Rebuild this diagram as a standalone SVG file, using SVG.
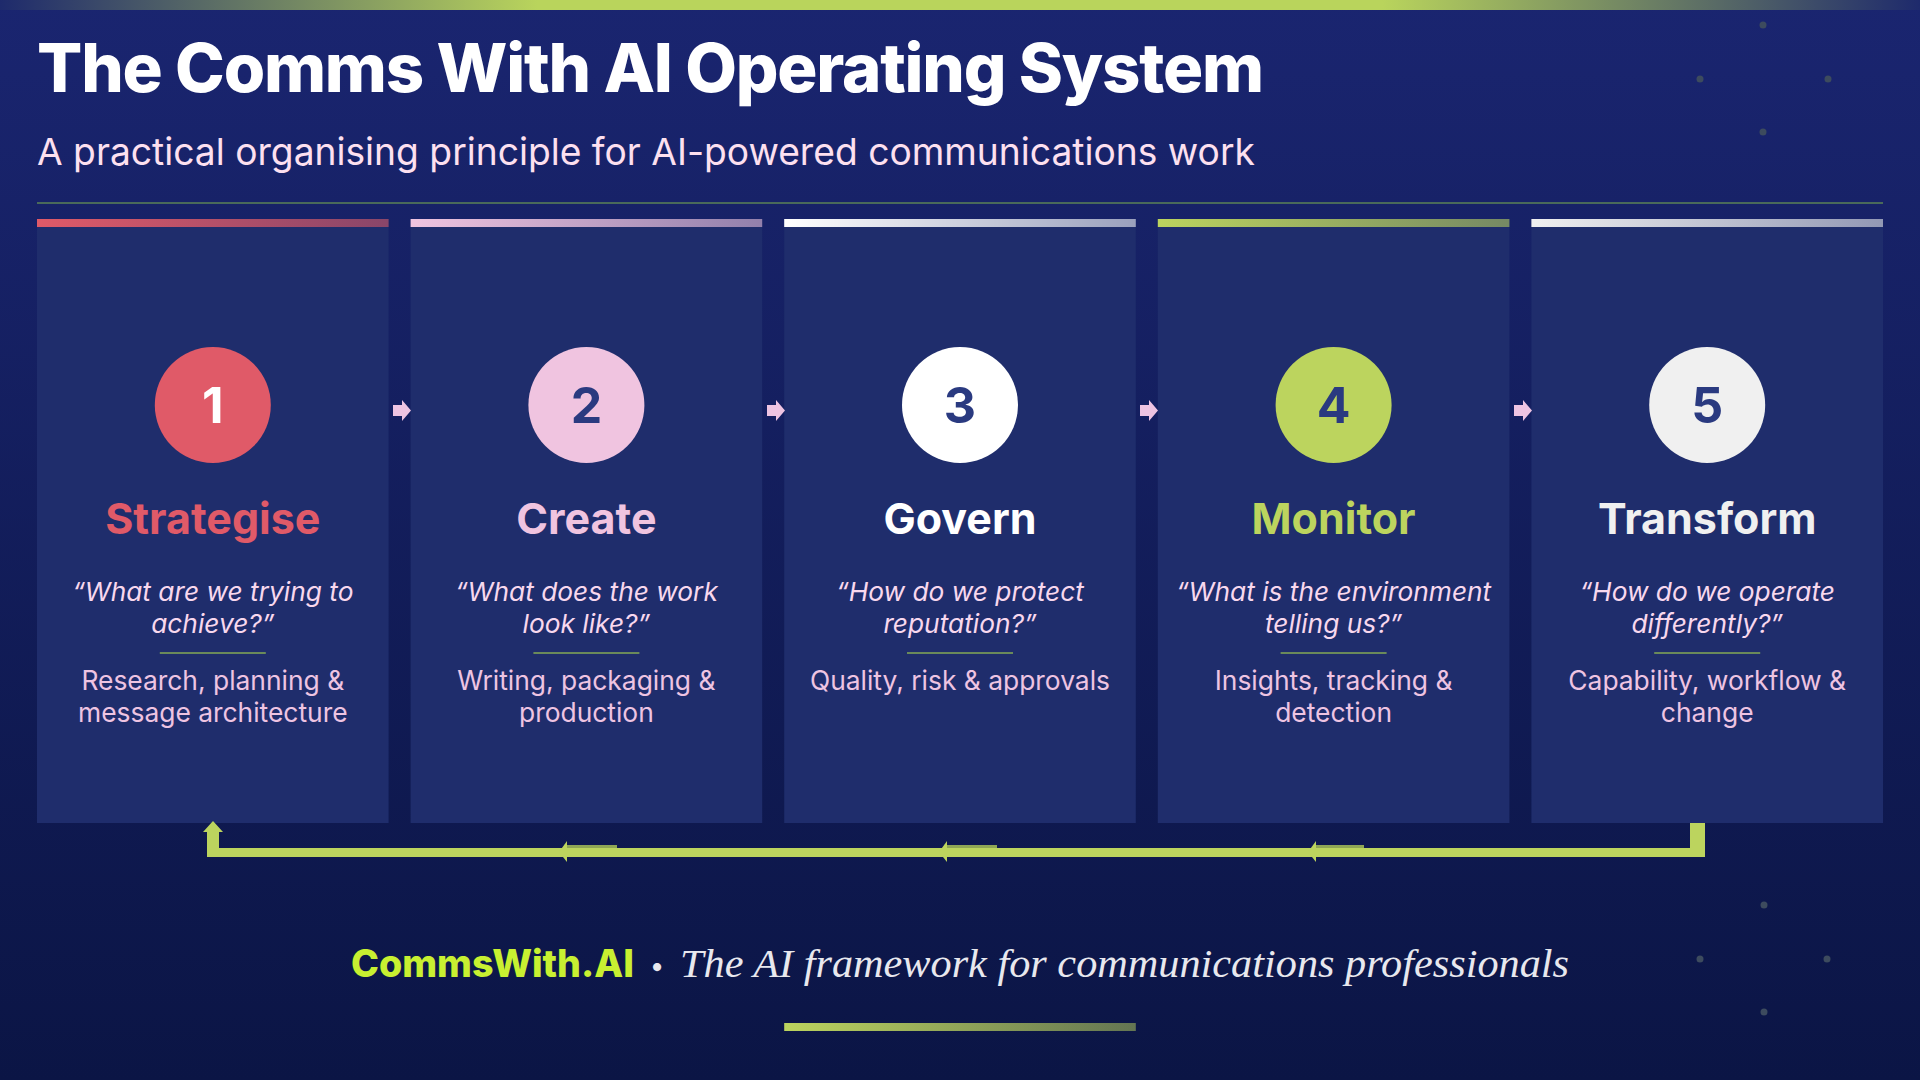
<svg xmlns="http://www.w3.org/2000/svg" width="1920" height="1080" viewBox="0 0 1920 1080">
  <defs>
    <linearGradient id="bg" x1="0" y1="0" x2="0" y2="1">
      <stop offset="0" stop-color="#1a2570"/>
      <stop offset="1" stop-color="#0b1545"/>
    </linearGradient>
    <linearGradient id="topbar" x1="0" y1="0" x2="1" y2="0">
      <stop offset="0" stop-color="#1e2a6c"/>
      <stop offset="0.28" stop-color="#b9d45c"/>
      <stop offset="0.72" stop-color="#b9d45c"/>
      <stop offset="1" stop-color="#1e2a6c"/>
    </linearGradient>
    <linearGradient id="g1" x1="0" y1="0" x2="1" y2="0"><stop offset="0" stop-color="#e05a68"/><stop offset="1" stop-color="#e05a68" stop-opacity="0.55"/></linearGradient>
    <linearGradient id="g2" x1="0" y1="0" x2="1" y2="0"><stop offset="0" stop-color="#f0c4e0"/><stop offset="1" stop-color="#f0c4e0" stop-opacity="0.55"/></linearGradient>
    <linearGradient id="g3" x1="0" y1="0" x2="1" y2="0"><stop offset="0" stop-color="#ffffff"/><stop offset="1" stop-color="#ffffff" stop-opacity="0.55"/></linearGradient>
    <linearGradient id="g4" x1="0" y1="0" x2="1" y2="0"><stop offset="0" stop-color="#bcd45e"/><stop offset="1" stop-color="#bcd45e" stop-opacity="0.55"/></linearGradient>
    <linearGradient id="g5" x1="0" y1="0" x2="1" y2="0"><stop offset="0" stop-color="#f0f0f0"/><stop offset="1" stop-color="#f0f0f0" stop-opacity="0.55"/></linearGradient>
    <linearGradient id="gfoot" x1="0" y1="0" x2="1" y2="0"><stop offset="0" stop-color="#bcd45e"/><stop offset="1" stop-color="#bcd45e" stop-opacity="0.5"/></linearGradient>
  </defs>
  <style>
    .card { fill: #1f2d6c; }
    .num { font-family: Inter, "Noto Sans", sans-serif; font-weight: 700; font-size: 50px; text-anchor: middle; fill: #2a3a80; }
    .ttl { font-family: Inter, "Noto Sans", sans-serif; font-weight: 700; font-size: 43px; text-anchor: middle; }
    .q { font-family: Inter, "Noto Sans", sans-serif; font-style: italic; font-size: 26.3px; text-anchor: middle; fill: #f8d8ee; }
    .d { font-family: Inter, "Noto Sans", sans-serif; font-size: 26.4px; text-anchor: middle; fill: #eec4e2; }
    .sep { fill: #6a8a5a; }
    .step { fill: #eec4e2; }
    .dot { fill: #3d4b5e; }
    .loop { fill: #bcd45e; }
  </style>

  <rect width="1920" height="1080" fill="url(#bg)"/>
  <rect x="0" y="0" width="1920" height="10" fill="url(#topbar)"/>

  <g id="decor">
    <circle class="dot" cx="1763" cy="25" r="3.5"/>
    <circle class="dot" cx="1700" cy="79" r="3.5"/>
    <circle class="dot" cx="1828" cy="79" r="3.5"/>
    <circle class="dot" cx="1763" cy="132" r="3.5"/>
    <circle class="dot" cx="1764" cy="905" r="3.5"/>
    <circle class="dot" cx="1700" cy="959" r="3.5"/>
    <circle class="dot" cx="1827" cy="959" r="3.5"/>
    <circle class="dot" cx="1764" cy="1012" r="3.5"/>
  </g>

  <g id="header">
    <text x="37" y="92" font-family="Inter, 'Noto Sans', sans-serif" font-weight="800" font-size="67" fill="#ffffff" letter-spacing="-1.2">The Comms With AI Operating System</text>
    <text x="37" y="165" font-family="Inter, 'Noto Sans', sans-serif" font-size="37.2" fill="#fde0f0">A practical organising principle for AI-powered communications work</text>
    <rect x="37" y="202" width="1846" height="2" fill="#4a6a5a"/>
  </g>

  <g id="card1">
    <rect class="card" x="37" y="219" width="351.6" height="604"/>
    <rect x="37" y="219" width="351.6" height="8" fill="url(#g1)"/>
    <circle cx="212.8" cy="405" r="58" fill="#e05a68"/>
    <text class="num" x="212.8" y="423" style="fill:#ffffff">1</text>
    <text class="ttl" x="212.8" y="534" fill="#e05a68">Strategise</text>
    <text class="q" x="212.8" y="601">“What are we trying to</text>
    <text class="q" x="212.8" y="633">achieve?”</text>
    <rect class="sep" x="159.8" y="652" width="106" height="2"/>
    <text class="d" x="212.8" y="690">Research, planning &amp;</text>
    <text class="d" x="212.8" y="722">message architecture</text>
  </g>

  <g id="card2">
    <rect class="card" x="410.6" y="219" width="351.6" height="604"/>
    <rect x="410.6" y="219" width="351.6" height="8" fill="url(#g2)"/>
    <circle cx="586.4" cy="405" r="58" fill="#f0c4e0"/>
    <text class="num" x="586.4" y="423">2</text>
    <text class="ttl" x="586.4" y="534" fill="#f0c4e0">Create</text>
    <text class="q" x="586.4" y="601">“What does the work</text>
    <text class="q" x="586.4" y="633">look like?”</text>
    <rect class="sep" x="533.4" y="652" width="106" height="2"/>
    <text class="d" x="586.4" y="690">Writing, packaging &amp;</text>
    <text class="d" x="586.4" y="722">production</text>
  </g>

  <g id="card3">
    <rect class="card" x="784.2" y="219" width="351.6" height="604"/>
    <rect x="784.2" y="219" width="351.6" height="8" fill="url(#g3)"/>
    <circle cx="960" cy="405" r="58" fill="#ffffff"/>
    <text class="num" x="960" y="423">3</text>
    <text class="ttl" x="960" y="534" fill="#ffffff">Govern</text>
    <text class="q" x="960" y="601">“How do we protect</text>
    <text class="q" x="960" y="633">reputation?”</text>
    <rect class="sep" x="907" y="652" width="106" height="2"/>
    <text class="d" x="960" y="690">Quality, risk &amp; approvals</text>
  </g>

  <g id="card4">
    <rect class="card" x="1157.8" y="219" width="351.6" height="604"/>
    <rect x="1157.8" y="219" width="351.6" height="8" fill="url(#g4)"/>
    <circle cx="1333.6" cy="405" r="58" fill="#bcd45e"/>
    <text class="num" x="1333.6" y="423">4</text>
    <text class="ttl" x="1333.6" y="534" fill="#bcd45e">Monitor</text>
    <text class="q" x="1333.6" y="601">“What is the environment</text>
    <text class="q" x="1333.6" y="633">telling us?”</text>
    <rect class="sep" x="1280.6" y="652" width="106" height="2"/>
    <text class="d" x="1333.6" y="690">Insights, tracking &amp;</text>
    <text class="d" x="1333.6" y="722">detection</text>
  </g>

  <g id="card5">
    <rect class="card" x="1531.4" y="219" width="351.6" height="604"/>
    <rect x="1531.4" y="219" width="351.6" height="8" fill="url(#g5)"/>
    <circle cx="1707.2" cy="405" r="58" fill="#f0f0f0"/>
    <text class="num" x="1707.2" y="423">5</text>
    <text class="ttl" x="1707.2" y="534" fill="#f0f0f0">Transform</text>
    <text class="q" x="1707.2" y="601">“How do we operate</text>
    <text class="q" x="1707.2" y="633">differently?”</text>
    <rect class="sep" x="1654.2" y="652" width="106" height="2"/>
    <text class="d" x="1707.2" y="690">Capability, workflow &amp;</text>
    <text class="d" x="1707.2" y="722">change</text>
  </g>

  <g id="connectors">
    <path class="step" d="M393 405 H402 V400 L411 410.5 L402 421 V416 H393 Z"/>
    <path class="step" d="M767 405 H776 V400 L785 410.5 L776 421 V416 H767 Z"/>
    <path class="step" d="M1140 405 H1149 V400 L1158 410.5 L1149 421 V416 H1140 Z"/>
    <path class="step" d="M1514 405 H1523 V400 L1532 410.5 L1523 421 V416 H1514 Z"/>

    <rect x="567" y="845" width="50" height="8" fill="#8fa655"/>
    <rect x="947" y="845" width="50" height="8" fill="#8fa655"/>
    <rect x="1316" y="845" width="48" height="8" fill="#8fa655"/>
    <path class="loop" d="M1690 823 H1705 V857 H207 V832 H203 L213 821 L223 832 H219 V848 H1690 Z"/>
    <path class="loop" d="M559 852 L567 841 V862 Z"/>
    <path class="loop" d="M939 852 L947 841 V862 Z"/>
    <path class="loop" d="M1308 852 L1316 841 V862 Z"/>
  </g>

  <g id="footer">
    <text x="351" y="977" font-family="Inter, 'Noto Sans', sans-serif" font-weight="800" font-size="37.6" fill="#c8f031">CommsWith.AI</text>
    <text x="657" y="975" font-family="Inter, 'Noto Sans', sans-serif" font-size="26" fill="#e8e8ee" text-anchor="middle">•</text>
    <text x="680" y="977" font-family="'Liberation Serif', serif" font-style="italic" font-size="41" fill="#e8e8ee" textLength="889" lengthAdjust="spacingAndGlyphs">The AI framework for communications professionals</text>
    <rect x="784.2" y="1023" width="351.6" height="8" fill="url(#gfoot)"/>
  </g>
</svg>
